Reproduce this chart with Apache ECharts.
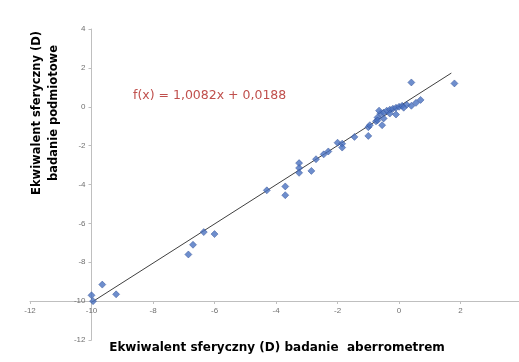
<!DOCTYPE html>
<html>
<head>
<meta charset="utf-8">
<script src="https://cdn.jsdelivr.net/npm/echarts@6/dist/echarts.min.js"></script>
<style>
html,body{margin:0;padding:0;background:#fff;}
#chart{width:519px;height:362px;}
</style>
</head>
<body>
<div id="chart"></div>
<script>
// dane
var aberroX = [-10.0,-9.95,-9.65,-9.2,-6.85,-6.7,-6.35,-6.0,-4.3,-3.7,-3.7,-3.25,-3.25,-3.25,-2.85,-2.7,-2.45,-2.3,-2.0,-1.85,-1.85,-1.45,-1.0,-1.0,-0.95,-0.75,-0.7,-0.6,-0.5,-0.4,-0.3,-0.2,-0.1,0.0,0.1,0.25,0.4,0.55,0.7,-0.1,-0.55,-0.7,0.4,1.8,-0.5,-0.3,0.15,-0.65];
var podmiotY = [-9.7,-10.0,-9.15,-9.65,-7.6,-7.1,-6.45,-6.55,-4.3,-4.1,-4.55,-2.9,-3.15,-3.4,-3.3,-2.7,-2.45,-2.3,-1.85,-1.9,-2.1,-1.55,-1.05,-1.5,-0.95,-0.75,-0.55,-0.35,-0.3,-0.2,-0.15,-0.1,-0.05,0.0,0.05,0.1,0.05,0.2,0.35,-0.4,-0.95,-0.7,1.25,1.2,-0.6,-0.35,-0.05,-0.2];
var trendSlope = 1.0082, trendIntercept = 0.0188;
var trendRange = [-10, 1.7];
var xTicks = [-12,-10,-8,-6,-4,-2,0,2];
var yTicks = [-12,-10,-8,-6,-4,-2,0,2,4];

var points = aberroX.map((v,i)=>[v,podmiotY[i]]);
var trend = trendRange.map(v=>[v, trendSlope*v + trendIntercept]);

var myChart = echarts.init(document.getElementById('chart'));
var axisCommon = {
    type:'value',
    interval:2,
    splitLine:{show:false},
    axisLine:{show:true, onZero:false, lineStyle:{color:'#bfbfbf', width:1}},
    axisTick:{show:true, length:3, lineStyle:{color:'#bfbfbf'}},
    axisLabel:{color:'#6f6f6f', fontSize:8, fontFamily:'Liberation Sans', showMaxLabel:false}
};
var option = {
    animation:false,
    backgroundColor:'#fff',
    grid:{left:30, right:0, top:29, bottom:22},
    xAxis: Object.assign({}, axisCommon, {
        min:xTicks[0], max:3.9, offset:-39,
        axisLabel:Object.assign({}, axisCommon.axisLabel, {margin:6})
    }),
    yAxis: Object.assign({}, axisCommon, {
        min:yTicks[0], max:yTicks[yTicks.length-1], offset:-61.5,
        axisLabel:Object.assign({}, axisCommon.axisLabel, {margin:6, showMaxLabel:true})
    }),
    graphic:[
        {
            type:'text', x:277, y:348,
            style:{text:'Ekwiwalent sferyczny (D) badanie  aberrometrem', font:'bold 12px "DejaVu Sans"', fill:'#000',
                align:'center', verticalAlign:'middle'}
        },
        {
            type:'text', x:46, y:113, rotation:Math.PI/2,
            style:{text:'Ekwiwalent sferyczny (D)\nbadanie podmiotowe', font:'bold 11.5px "DejaVu Sans"', fill:'#000',
                align:'center', verticalAlign:'middle', lineHeight:17}
        },
        {
            type:'text', x:133, y:96,
            style:{text:'f(x) = 1,0082x + 0,0188', font:'12.5px "DejaVu Sans"', fill:'#c0504d', verticalAlign:'middle'}
        }
    ],
    series:[
        {
            type:'line',
            data:trend,
            symbol:'none',
            lineStyle:{color:'#404040', width:1},
            z:1
        },
        {
            type:'scatter',
            data:points,
            symbol:'diamond',
            symbolSize:7,
            itemStyle:{color:'#4a72c0', borderColor:'#2f4f95', borderWidth:0.6},
            z:2
        }
    ]
};
myChart.setOption(option);
</script>
</body>
</html>
